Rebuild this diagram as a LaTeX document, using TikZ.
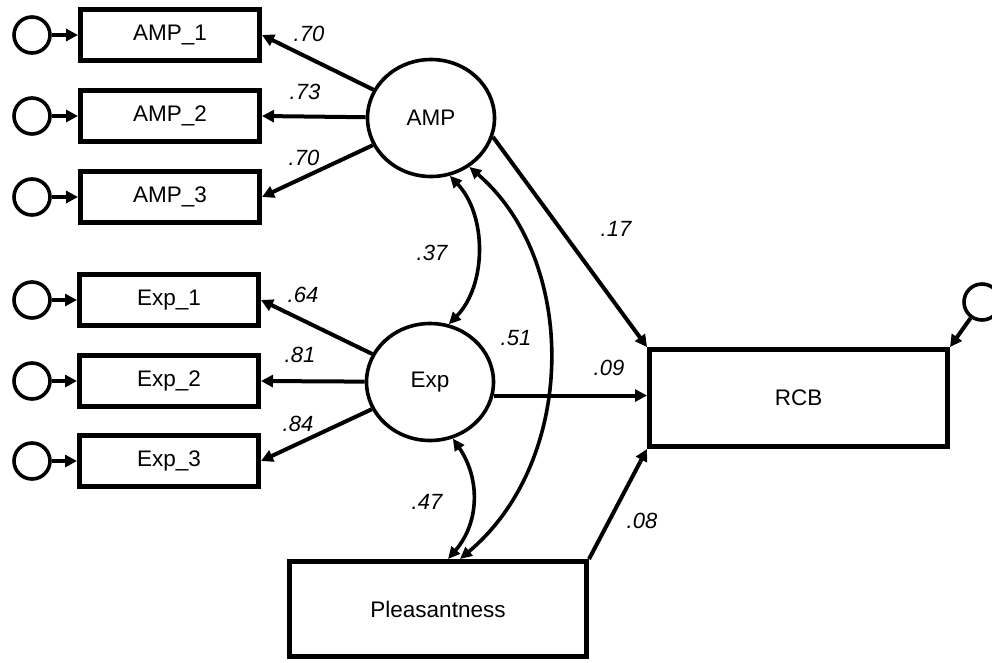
\documentclass[tikz,border=0pt]{standalone}
\usepackage{fontspec}
\setmainfont{Liberation Sans}
\usetikzlibrary{arrows.meta,shapes.geometric}
\begin{document}
\begin{tikzpicture}[x=1pt,y=-1pt,
  obs/.style={draw,line width=5pt,rectangle,inner sep=0pt,minimum width=179pt,minimum height=51pt,font=\fontsize{22.5}{26}\selectfont},
  bigobs/.style={draw,line width=5pt,rectangle,inner sep=0pt,font=\fontsize{22.5}{26}\selectfont},
  lat/.style={draw,line width=3.6pt,ellipse,inner sep=0pt,minimum width=127pt,minimum height=117pt,font=\fontsize{22.5}{26}\selectfont},
  err/.style={draw,line width=3.6pt,circle,inner sep=0pt,minimum size=36pt},
  arr/.style={line width=4pt,-{Triangle[length=12pt,width=12pt]}},
  cov/.style={line width=3.6pt,{Triangle[length=12pt,width=11pt]}-{Triangle[length=12pt,width=11pt]}},
  lbl/.style={font=\fontsize{22}{26}\selectfont\itshape,inner sep=0pt}]
\useasboundingbox (0,0) rectangle (992,662);
% observed indicators
\node[obs] (A1) at (170,35) {AMP\_1};
\node[obs] (A2) at (170,116) {AMP\_2};
\node[obs] (A3) at (170,197) {AMP\_3};
\node[obs] (E1) at (169,300) {Exp\_1};
\node[obs] (E2) at (169,381) {Exp\_2};
\node[obs] (E3) at (169,461) {Exp\_3};
% error circles
\node[err] (eA1) at (32,35) {};
\node[err] (eA2) at (32,116) {};
\node[err] (eA3) at (32,197) {};
\node[err] (eE1) at (32,300) {};
\node[err] (eE2) at (32,381) {};
\node[err] (eE3) at (32,461) {};
% latents
\node[lat] (AMP) at (431,118) {AMP};
\node[lat] (Exp) at (430,382) {Exp};
% outcome boxes
\node[bigobs,minimum width=297pt,minimum height=95pt] (PL) at (438,609) {Pleasantness};
\node[bigobs,minimum width=298pt,minimum height=97pt] (RCB) at (798.5,398) {RCB};
\node[err] (eR) at (982,302) {};
% error arrows
\foreach \e/\b in {eA1/A1,eA2/A2,eA3/A3,eE1/E1,eE2/E2,eE3/E3}
  \draw[arr] (\e) -- (\b.west);
\draw[arr] (eR) -- (RCB.north east);
% loadings
\draw[arr] (AMP) -- (A1.east);
\draw[arr] (AMP) -- (A2.east);
\draw[arr] (AMP) -- (A3.east);
\draw[arr] (Exp) -- (E1.east);
\draw[arr] (Exp) -- (E2.east);
\draw[arr] (Exp) -- (E3.east);
% structural paths
\draw[arr] (AMP.-17) -- (RCB.north west);
\draw[arr] (Exp.-12) -- (Exp.-12 -| RCB.west);
\draw[arr] (PL.north east) -- (RCB.south west);
% covariances
\draw[cov] (AMP.-72) .. controls (487,215) and (487,285) .. (Exp.72);
\draw[cov] (AMP.-52) .. controls (578,260) and (578,460) .. ([xshift=22pt]PL.north);
\draw[cov] (Exp.-68) .. controls (480,478) and (480,522) .. ([xshift=10pt]PL.north);
% labels
\node[lbl] (l1) at (309,34) {.70};
\node[lbl] (l2) at (305,92) {.73};
\node[lbl] (l3) at (304,158) {.70};
\node[lbl] (l4) at (303,295) {.64};
\node[lbl] (l5) at (300,355) {.81};
\node[lbl] (l6) at (298,424) {.84};
\node[lbl] (l7) at (432,253) {.37};
\node[lbl] (l8) at (616,229) {.17};
\node[lbl] (l9) at (516,338) {.51};
\node[lbl] (l10) at (609,368) {.09};
\node[lbl] (l11) at (427,502) {.47};
\node[lbl] (l12) at (642,521) {.08};
\end{tikzpicture}
\end{document}
